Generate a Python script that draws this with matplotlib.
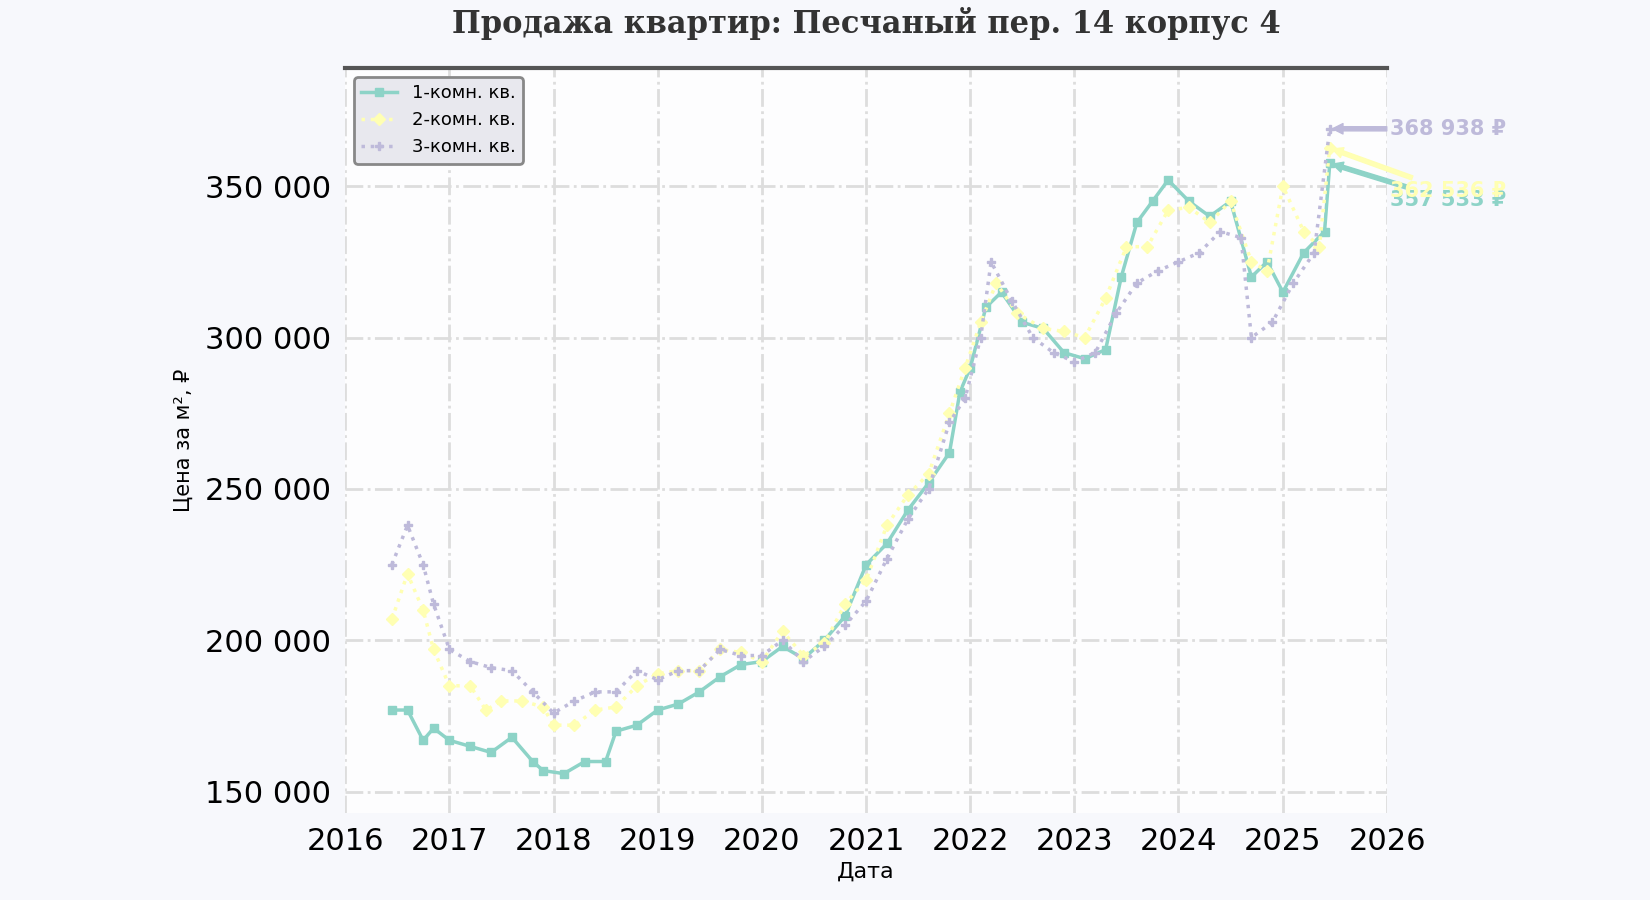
import matplotlib.pyplot as plt
import pandas as pd
import matplotlib.ticker as mticker

# decimal years and prices (thousand rub per m2)
t1 = [2016.45, 2016.6, 2016.75, 2016.85, 2017.0, 2017.2, 2017.4, 2017.6, 2017.8, 2017.9, 2018.1, 2018.3, 2018.5, 2018.6,
      2018.8, 2019.0, 2019.2, 2019.4, 2019.6, 2019.8, 2020.0, 2020.2, 2020.4, 2020.6, 2020.8, 2021.0, 2021.2, 2021.4,
      2021.6, 2021.8, 2021.9, 2022.0, 2022.15, 2022.3, 2022.5, 2022.7, 2022.9, 2023.1, 2023.3, 2023.45, 2023.6,
      2023.75, 2023.9, 2024.1, 2024.3, 2024.5, 2024.7, 2024.85, 2025.0, 2025.2, 2025.4, 2025.45]
v1 = [177, 177, 167, 171, 167, 165, 163, 168, 160, 157, 156, 160, 160, 170, 172, 177, 179, 183, 188, 192, 193, 198, 194,
      200, 208, 225, 232, 243, 252, 262, 282, 290, 310, 315, 305, 303, 295, 293, 296, 320, 338, 345, 352, 345, 340, 345,
      320, 325, 315, 328, 335, 357.533]
t2 = [2016.45, 2016.6, 2016.75, 2016.85, 2017.0, 2017.2, 2017.35, 2017.5, 2017.7, 2017.9, 2018.0, 2018.2, 2018.4, 2018.6,
      2018.8, 2019.0, 2019.2, 2019.4, 2019.6, 2019.8, 2020.0, 2020.2, 2020.4, 2020.6, 2020.8, 2021.0, 2021.2, 2021.4,
      2021.6, 2021.8, 2021.95, 2022.1, 2022.25, 2022.45, 2022.7, 2022.9, 2023.1, 2023.3, 2023.5, 2023.7, 2023.9, 2024.1,
      2024.3, 2024.5, 2024.7, 2024.85, 2025.0, 2025.2, 2025.35, 2025.45]
v2 = [207, 222, 210, 197, 185, 185, 177, 180, 180, 178, 172, 172, 177, 178, 185, 189, 190, 190, 197, 196, 193, 203, 195,
      199, 212, 220, 238, 248, 255, 275, 290, 305, 318, 308, 303, 302, 300, 313, 330, 330, 342, 343, 338, 345, 325, 322,
      350, 335, 330, 362.536]
t3 = [2016.45, 2016.6, 2016.75, 2016.85, 2017.0, 2017.2, 2017.4, 2017.6, 2017.8, 2018.0, 2018.2, 2018.4, 2018.6, 2018.8,
      2019.0, 2019.2, 2019.4, 2019.6, 2019.8, 2020.0, 2020.2, 2020.4, 2020.6, 2020.8, 2021.0, 2021.2, 2021.4, 2021.6,
      2021.8, 2021.95, 2022.1, 2022.2, 2022.4, 2022.6, 2022.8, 2023.0, 2023.2, 2023.4, 2023.6, 2023.8, 2024.0, 2024.2,
      2024.4, 2024.6, 2024.7, 2024.9, 2025.1, 2025.3, 2025.45]
v3 = [225, 238, 225, 212, 197, 193, 191, 190, 183, 176, 180, 183, 183, 190, 187, 190, 190, 197, 195, 195, 200, 193, 198,
      205, 213, 227, 240, 250, 272, 280, 300, 325, 312, 300, 295, 292, 295, 308, 318, 322, 325, 328, 335, 333, 300, 305,
      318, 328, 368.938]

labels = ['1-комн. кв.', '2-комн. кв.', '3-комн. кв.']
colors = ['#8dd3c7', '#ffffb3', '#bebada']
label_y = [345.5, 348.5, 368.9]  # text positions of end labels (thousand)


def to_dates(ts):
    return [pd.Timestamp(int(t), 1, 1) + pd.Timedelta(days=(t - int(t)) * 365.25) for t in ts]


plt.rcParams['font.family'] = ['DejaVu Sans']
fig = plt.figure(figsize=(16.5, 9), dpi=100, facecolor='#f7f8fc')
ax = fig.add_axes([345 / 1650, 1 - 813 / 900, 1042 / 1650, 745 / 900])
ax.set_facecolor('#fdfdfe')

series = [(t1, v1, '-', 's'), (t2, v2, ':', 'D'), (t3, v3, ':', 'P')]
for (t, v, ls, mk), lab, c in zip(series, labels, colors):
    d = to_dates(t)
    ax.plot(d, [x * 1000 for x in v], linestyle=ls, marker=mk, color=c, lw=2.5, ms=6, label=lab)

for (t, v, _, _), c, ly in zip(series, colors, label_y):
    d = to_dates(t)[-1]
    val = v[-1] * 1000
    ax.annotate(f'{val:,.0f} ₽'.replace(',', ' '), xy=(d, val),
                xytext=(pd.Timestamp('2026-01-10'), ly * 1000),
                color=c, fontsize=15, fontweight='bold', va='center', annotation_clip=False,
                arrowprops=dict(arrowstyle='simple', color=c, lw=1, shrinkA=0, shrinkB=2))

ax.set_xlim(pd.Timestamp('2016-01-01'), pd.Timestamp('2026-01-01'))
ax.set_ylim(143000, 389000)
ax.yaxis.set_major_locator(mticker.MultipleLocator(50000))
ax.yaxis.set_major_formatter(mticker.FuncFormatter(lambda x, p: f'{x:,.0f}'.replace(',', ' ')))
ax.tick_params(labelsize=22, length=0, pad=10)
ax.grid(True, color='#dddddd', linestyle='-.', lw=2)
for s in ['left', 'right', 'bottom']:
    ax.spines[s].set_visible(False)
ax.spines['top'].set_color('#555555')
ax.spines['top'].set_linewidth(3)

ax.set_title('Продажа квартир: Песчаный пер. 14 корпус 4', fontsize=22, fontweight='bold',
             family='DejaVu Serif', color='#333333', pad=25)
ax.set_xlabel('Дата', fontsize=16, labelpad=4)
ax.set_ylabel('Цена за м², ₽', fontsize=15, labelpad=8)
leg = ax.legend(loc='upper left', fontsize=13, facecolor='#e8e8ee', edgecolor='#888888', framealpha=1)
leg.get_frame().set_linewidth(2)

fig.savefig('out.png', dpi=100, facecolor=fig.get_facecolor())
